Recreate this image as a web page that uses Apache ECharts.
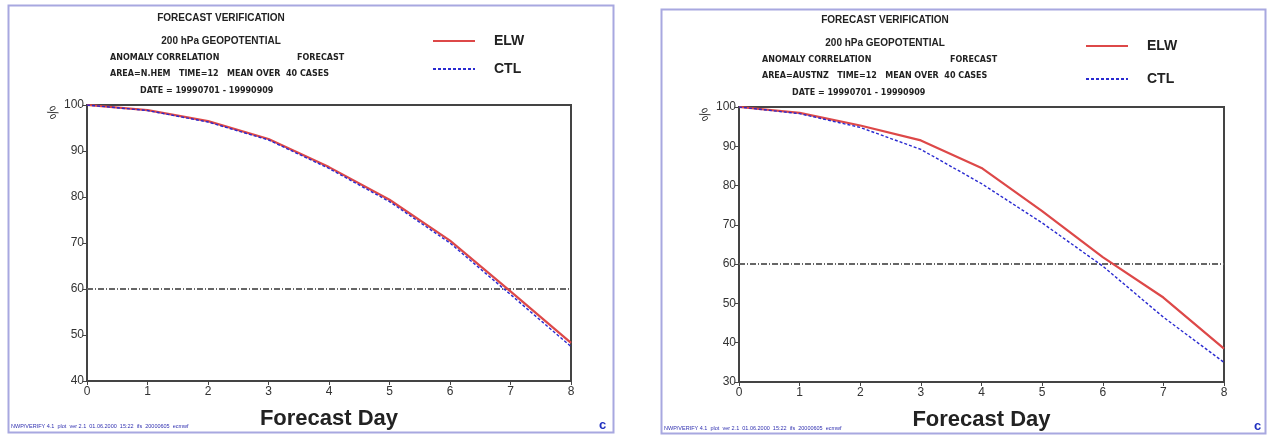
<!DOCTYPE html>
<html><head><meta charset="utf-8">
<script src="https://cdn.jsdelivr.net/npm/echarts@6/dist/echarts.min.js"></script>
<style>html,body{margin:0;padding:0;background:#fff}#c{width:1268px;height:436px}</style>
</head><body><div id="c"></div>
<script>
const days = [0,1,2,3,4,5,6,7,8];
const xTicks = ['0','1','2','3','4','5','6','7','8'];
const elwNH = [100, 98.9, 96.5, 92.6, 86.5, 79.4, 70.5, 59.5, 48.3];
const ctlNH = [100, 98.8, 96.3, 92.4, 86.2, 79.0, 70.0, 58.8, 47.5];
const elwAU = [100, 98.5, 95.3, 91.5, 84.5, 73.5, 61.8, 51.5, 38.5];
const ctlAU = [100, 98.3, 94.8, 89.2, 80.5, 70.5, 59.5, 46.5, 35.0];
const refLevel = 60;
const yRangeNH = [40, 100];
const yRangeAU = [30, 100];
const seriesNames = ['ELW', 'CTL'];
const titlesNH = ['FORECAST VERIFICATION','200 hPa GEOPOTENTIAL','ANOMALY CORRELATION','FORECAST','AREA=N.HEM   TIME=12   MEAN OVER  40 CASES','DATE = 19990701 - 19990909'];
const titlesAU = ['FORECAST VERIFICATION','200 hPa GEOPOTENTIAL','ANOMALY CORRELATION','FORECAST','AREA=AUSTNZ   TIME=12   MEAN OVER  40 CASES','DATE = 19990701 - 19990909'];
const footerText = 'NWP/VERIFY 4.1  plot  ver 2.1  01.06.2000  15:22  ifs  20000605  ecmwf';

const FONT = 'Liberation Sans, Arial, sans-serif';
const SMALLFONT = 'DejaVu Sans, sans-serif';
const RED = '#dd4848', BLUE = '#2a2ad0';

function pairs(vals){ return days.map((d,i)=>[d, vals[i]]); }

function axisX(gi){
  return {gridIndex: gi, type:'value', min:0, max:8, interval:1,
    name:'Forecast Day', nameLocation:'middle', nameGap: 27,
    nameTextStyle:{fontFamily:FONT, fontSize:22, fontWeight:'bold', color:'#222'},
    axisLine:{show:true, lineStyle:{color:'#444', width:2}},
    axisTick:{show:true, length:4, lineStyle:{color:'#444'}},
    axisLabel:{fontFamily:FONT, fontSize:12, color:'#333', margin:5, formatter:(v)=>xTicks[v]},
    splitLine:{show:false}};
}
function axisY(gi, r){
  return {gridIndex: gi, type:'value', min:r[0], max:r[1], interval:10,
    axisLine:{show:true, lineStyle:{color:'#444', width:2}},
    axisTick:{show:true, length:4, lineStyle:{color:'#444'}},
    axisLabel:{fontFamily:FONT, fontSize:12, color:'#333', margin:3},
    splitLine:{show:false}};
}
function lineSeries(name, vals, gi, withRef){
  const s = {name, type:'line', xAxisIndex:gi, yAxisIndex:gi, data:pairs(vals),
    symbol:'none', smooth:false, z: name==='CTL'?4:3,
    lineStyle: name==='ELW' ? {color:RED, width:2.2} : {color:BLUE, width:1.4, type:[3,2]},
    itemStyle:{color: name==='ELW'?RED:BLUE}};
  if (withRef) {
    s.markLine = {silent:true, symbol:'none', label:{show:false},
      lineStyle:{color:'#666', width:2, type:[6,2,1,2]},
      data:[{yAxis: refLevel}], z:1};
  }
  return s;
}
function titleBlock(t, cx, y0, leftX, fcX){
  const base = {fontWeight:'bold', color:'#222'};
  const big = Object.assign({fontFamily:FONT, fontSize:10}, base);
  const small = Object.assign({fontFamily:SMALLFONT, fontSize:8}, base);
  return [
    {text:t[0], left:cx, top:y0, textAlign:'center', textStyle:big},
    {text:t[1], left:cx, top:y0+23, textAlign:'center', textStyle:big},
    {text:t[2], left:leftX, top:y0+41, textStyle:small},
    {text:t[3], left:fcX, top:y0+41, textStyle:small},
    {text:t[4], left:leftX, top:y0+57, textStyle:small},
    {text:t[5], left:leftX+30, top:y0+74, textStyle:small}
  ];
}
function legendBlock(left, top, gap){
  return {left, top, orient:'vertical', itemWidth:42, itemHeight:14, itemGap:gap,
    data: seriesNames, selectedMode:false,
    itemStyle:{opacity:0},
    textStyle:{fontFamily:FONT, fontSize:14, fontWeight:'bold', color:'#222', padding:[0,0,0,14]}};
}

const chart = echarts.init(document.getElementById('c'), null, {renderer:'canvas'});
chart.setOption({
  backgroundColor:'#fff',
  animation:false,
  title: titleBlock(titlesNH, 216, 8, 105, 292).concat(titleBlock(titlesAU, 880, 10, 757, 945)),
  legend:[legendBlock(427, 29, 14), legendBlock(1080, 34, 19)],
  grid:[
    {left:87, top:105, width:484, height:276, show:true, borderColor:'#444', borderWidth:2, backgroundColor:'transparent'},
    {left:739, top:107, width:485, height:280, show:true, borderColor:'#444', borderWidth:2, backgroundColor:'transparent'}
  ],
  xAxis:[axisX(0), axisX(1)],
  yAxis:[axisY(0, yRangeNH), axisY(1, yRangeAU)],
  series:[
    lineSeries('ELW', elwNH, 0, true), lineSeries('CTL', ctlNH, 0, false),
    lineSeries('ELW', elwAU, 1, true), lineSeries('CTL', ctlAU, 1, false)
  ],
  graphic:[
    {type:'rect', shape:{x:8.5, y:5.5, width:605, height:427}, style:{fill:'none', stroke:'#a8a8e0', lineWidth:2}, silent:true},
    {type:'rect', shape:{x:661.5, y:9.5, width:604, height:424}, style:{fill:'none', stroke:'#a8a8e0', lineWidth:2}, silent:true},
    {type:'text', x:55, y:104, rotation:-Math.PI/3, style:{text:'%', fontFamily:FONT, fontSize:14, fill:'#333'}},
    {type:'text', x:707, y:106, rotation:-Math.PI/3, style:{text:'%', fontFamily:FONT, fontSize:14, fill:'#333'}},
    {type:'text', left:11, top:423, style:{text:footerText, fontFamily:FONT, fontSize:5.5, fill:'#3030b0'}},
    {type:'text', left:664, top:425, style:{text:footerText, fontFamily:FONT, fontSize:5.5, fill:'#3030b0'}},
    {type:'text', left:599, top:419, style:{text:'c', fontFamily:FONT, fontSize:13, fontWeight:'bold', fill:'#2030c0'}},
    {type:'text', left:1254, top:420, style:{text:'c', fontFamily:FONT, fontSize:13, fontWeight:'bold', fill:'#2030c0'}}
  ]
});
</script></body></html>
